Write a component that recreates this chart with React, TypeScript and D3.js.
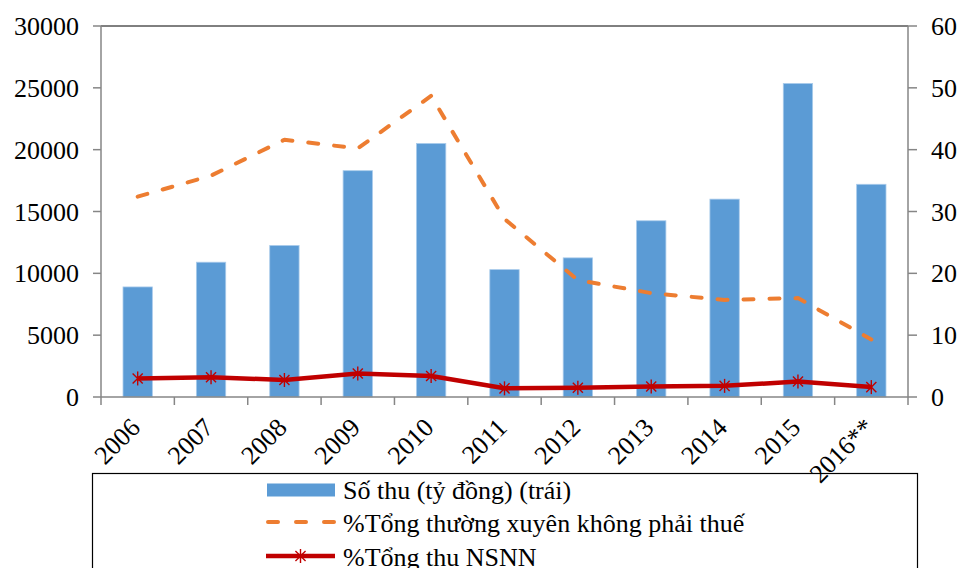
import React from "react";
import * as d3 from "d3";

const years = ["2006", "2007", "2008", "2009", "2010", "2011", "2012", "2013", "2014", "2015", "2016**"];
const revenue = [8900, 10900, 12250, 18300, 20500, 10300, 11250, 14250, 16000, 25350, 17200];
const nonTaxPct = [32.4, 35.8, 41.6, 40.2, 48.7, 28.8, 18.9, 16.8, 15.7, 16.0, 9.3];
const budgetPct = [3.0, 3.2, 2.75, 3.8, 3.4, 1.4, 1.5, 1.7, 1.8, 2.5, 1.6];
const leftTicks = [0, 5000, 10000, 15000, 20000, 25000, 30000];
const rightTicks = [0, 10, 20, 30, 40, 50, 60];
const legendLabels = ["Số thu (tỷ đồng) (trái)", "%Tổng thường xuyên không phải thuế", "%Tổng thu NSNN"];

const W = 960, H = 568;
const L = 101, R = 908, T = 26, B = 397;
const FONT = "'Liberation Serif', 'Times New Roman', serif";
const BLUE = "#5B9BD5", ORANGE = "#ED7D31", RED = "#C00000", AXIS = "#868686";

function Star({ x, y, s = 7 }: { x: number; y: number; s?: number }) {
  const d = s * 0.72;
  return (
    <g stroke={RED} strokeWidth={1.4}>
      <line x1={x} y1={y - s} x2={x} y2={y + s} />
      <line x1={x - d} y1={y - d} x2={x + d} y2={y + d} />
      <line x1={x - d} y1={y + d} x2={x + d} y2={y - d} />
    </g>
  );
}

export default function App() {
  const x = d3.scaleBand<string>().domain(years).range([L, R]).paddingInner(0).paddingOuter(0);
  const yL = d3.scaleLinear().domain([0, 30000]).range([B, T]);
  const yR = d3.scaleLinear().domain([0, 60]).range([B, T]);
  const bw = x.bandwidth();
  const barW = bw * 0.4;
  const cx = (i: number) => (x(years[i]) as number) + bw / 2;

  const lineGen = (vals: number[]) =>
    d3.line<number>().x((_, i) => cx(i)).y((v) => yR(v)).curve(d3.curveLinear)(vals) as string;

  const boundaries = years.map((y) => x(y) as number).concat([R]);

  return (
    <svg width={W} height={H} style={{ position: "absolute", left: 0, top: 0, background: "#fff", fontFamily: FONT }}>
      <rect x={0} y={0} width={W} height={H} fill="#fff" />
      {revenue.map((v, i) => (
        <rect key={i} x={cx(i) - barW / 2} y={yL(v)} width={barW} height={B - yL(v)} fill={BLUE} stroke="#A9CBEB" strokeWidth={0.8} />
      ))}
      <line x1={L} y1={T} x2={R} y2={T} stroke="#000" strokeWidth={1} />
      <line x1={L} y1={T} x2={L} y2={B} stroke={AXIS} strokeWidth={1.5} />
      <line x1={R} y1={T} x2={R} y2={B} stroke={AXIS} strokeWidth={1.5} />
      <line x1={L} y1={B} x2={R} y2={B} stroke={AXIS} strokeWidth={1.5} />
      {leftTicks.map((t) => (
        <g key={t}>
          <line x1={L - 8} x2={L} y1={yL(t)} y2={yL(t)} stroke={AXIS} strokeWidth={1.5} />
          <text x={79} y={yL(t)} dy="0.35em" textAnchor="end" fontSize={26} fill="#000">{t}</text>
        </g>
      ))}
      {rightTicks.map((t) => (
        <g key={t}>
          <line x1={R} x2={R + 9} y1={yR(t)} y2={yR(t)} stroke={AXIS} strokeWidth={1.5} />
          <text x={931} y={yR(t)} dy="0.35em" textAnchor="start" fontSize={26} fill="#000">{t}</text>
        </g>
      ))}
      {boundaries.map((bx, i) => (
        <line key={i} x1={bx} x2={bx} y1={B} y2={B + 8} stroke={AXIS} strokeWidth={1.5} />
      ))}
      <path d={lineGen(nonTaxPct)} fill="none" stroke={ORANGE} strokeWidth={4} strokeDasharray="10 16" strokeLinecap="round" strokeLinejoin="round" />
      <path d={lineGen(budgetPct)} fill="none" stroke={RED} strokeWidth={4.5} strokeLinejoin="round" />
      {budgetPct.map((v, i) => (
        <Star key={i} x={cx(i)} y={yR(v)} />
      ))}
      <rect x={92.5} y={473.5} width={825} height={120} fill="#fff" stroke="#000" strokeWidth={1.2} />
      <rect x={267} y={483.5} width={68} height={13} fill={BLUE} />
      <line x1={268} x2={335} y1={522} y2={522} stroke={ORANGE} strokeWidth={4} strokeDasharray="10 18" strokeLinecap="round" />
      <line x1={266} x2={335} y1={556} y2={556} stroke={RED} strokeWidth={4.5} />
      <Star x={300.5} y={556} />
      {legendLabels.map((lb, i) => (
        <text key={lb} x={343} y={498.5 + i * 33.5} fontSize={26} fill="#000">{lb}</text>
      ))}
      {years.map((yr, i) => (
        <text key={yr} transform={`translate(${cx(i) + 4},${429}) rotate(-45)`} textAnchor="end" fontSize={26} fill="#000">{yr}</text>
      ))}
    </svg>
  );
}
